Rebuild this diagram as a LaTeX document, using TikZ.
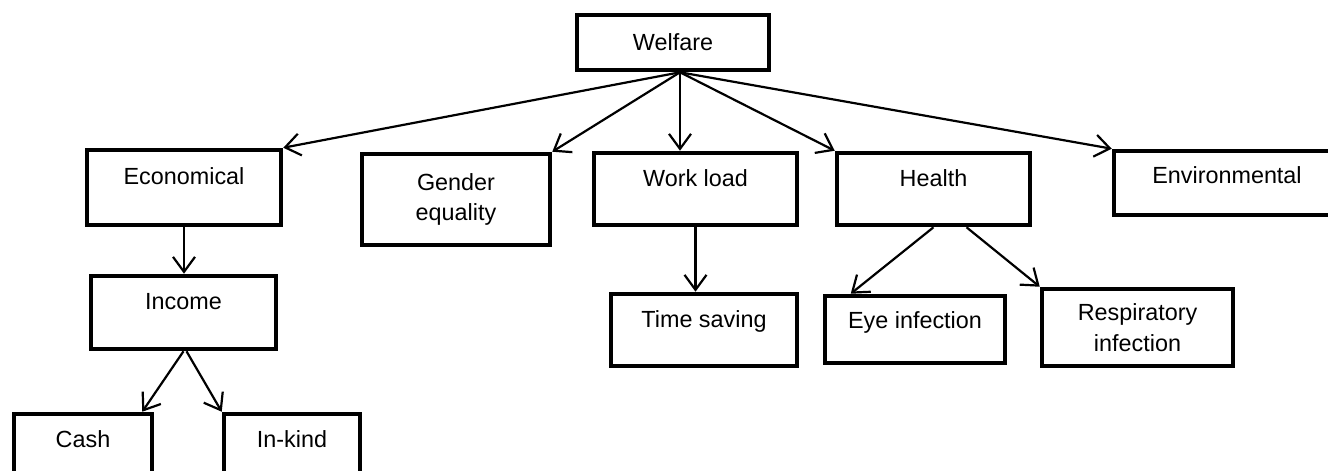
\documentclass[tikz,border=0pt]{standalone}
\usepackage{fontspec}
\setmainfont{Liberation Sans}
\usepackage{tikz}
\usetikzlibrary{arrows.meta,positioning}

\begin{document}
\begin{tikzpicture}[
    x=0.02cm, y=-0.02cm,
    box/.style={draw, line width=2.6pt, inner sep=0pt, align=center, font=\fontsize{13.3}{17.5}\selectfont},
    raised/.style 2 args={text height=#1, text depth=#2},
    arr/.style={-{Straight Barb[length=0.3cm, width=0.44cm]}, line width=1.25pt}
]
\useasboundingbox (0,0) rectangle (1328,470);
\clip (0,0) rectangle (1328,470);
% top level
\node[box, minimum width=3.84cm, raised={0.72cm}{0.38cm}] (welfare) at (673,42.5) {Welfare};
% second level
\node[box, minimum width=3.88cm, raised={0.68cm}{0.82cm}] (econ) at (184,187.5) {Economical};
\node[box, minimum width=3.76cm, minimum height=1.82cm] (gender) at (456,199.5) {Gender\\equality};
\node[box, minimum width=4.06cm, raised={0.66cm}{0.78cm}] (work) at (695.5,189) {Work load};
\node[box, minimum width=3.86cm, raised={0.66cm}{0.78cm}] (health) at (933.5,189) {Health};
\node[box, minimum width=4.52cm, raised={0.64cm}{0.64cm}] (env) at (1227,183) {Environmental};
% third level
\node[box, minimum width=3.70cm, raised={0.66cm}{0.80cm}] (income) at (183.5,312.5) {Income};
\node[box, minimum width=3.72cm, raised={0.66cm}{0.78cm}] (time) at (704,330) {Time saving};
\node[box, minimum width=3.60cm, raised={0.64cm}{0.70cm}] (eye) at (915,329.5) {Eye infection};
\node[box, minimum width=3.82cm, minimum height=1.54cm] (resp) at (1137.5,327.5) {Respiratory\\infection};
% fourth level
\node[box, minimum width=2.76cm, raised={0.66cm}{1.06cm}] (cash) at (83,457) {Cash};
\node[box, minimum width=2.72cm, raised={0.66cm}{1.06cm}] (inkind) at (292,457) {In-kind};

\coordinate (fan) at ([xshift=0.14cm]welfare.south);
\draw[arr] (fan) -- (econ.north east);
\draw[arr] (fan) -- (gender.north east);
\draw[arr] (fan) -- (fan |- work.north);
\draw[arr] (fan) -- (health.north west);
\draw[arr] (fan) -- (env.north west);
\draw[arr] (econ.south) -- (econ.south |- income.north);
\draw[arr] (income.south) -- ([xshift=-0.24cm]cash.north east);
\draw[arr] ([xshift=0.06cm]income.south) -- (inkind.north west);
\draw[arr] (work.south) -- (work.south |- time.north);
\draw[arr] (health.south) -- ([xshift=0.56cm]eye.north west);
\draw[arr] ([xshift=0.66cm]health.south) -- (resp.north west);
\end{tikzpicture}
\end{document}
